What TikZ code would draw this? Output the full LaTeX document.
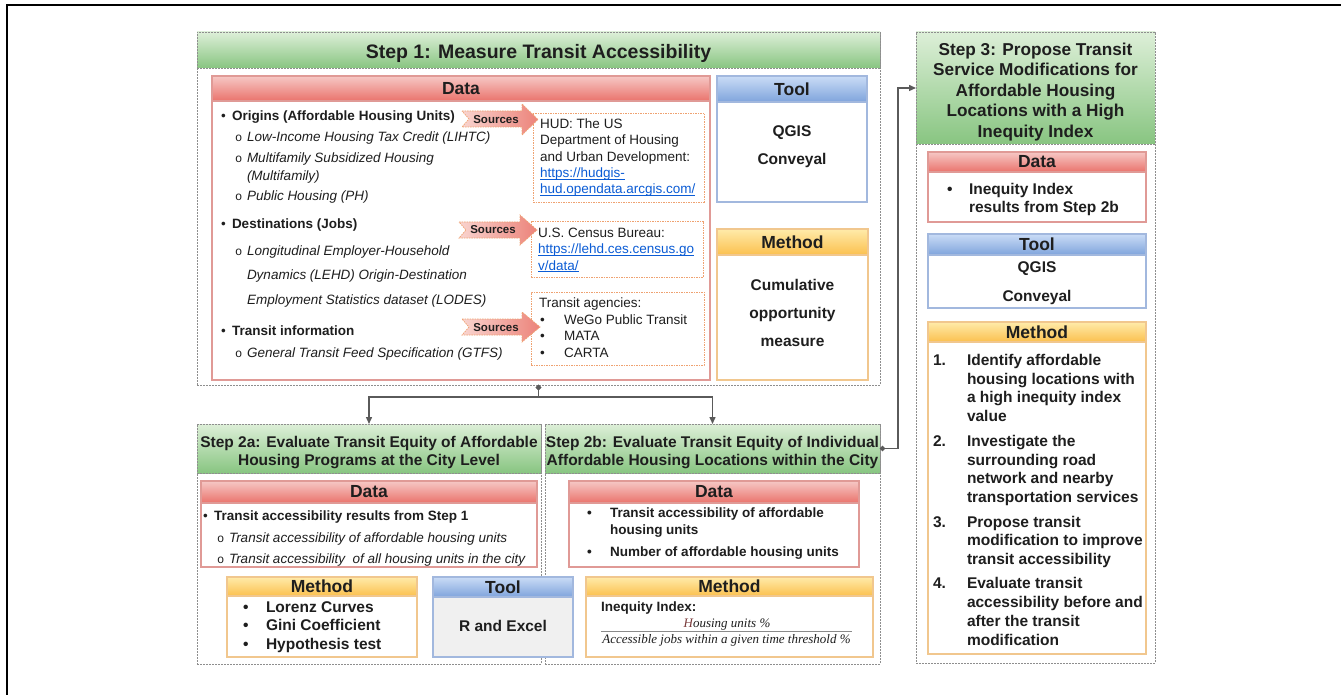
\documentclass[tikz,border=0pt]{standalone}
\usepackage{fontspec}
\setmainfont{Liberation Sans}
\newfontfamily\serifit{Liberation Serif}
\newfontfamily\monof{Liberation Mono}
\usetikzlibrary{fit,arrows.meta}
\definecolor{txt}{HTML}{1E1E1E}
\definecolor{dgray}{HTML}{8E8E8E}
\definecolor{gTop}{HTML}{DDEFD8}
\definecolor{gBot}{HTML}{88C581}
\definecolor{rTop}{HTML}{F6C8C5}
\definecolor{rBot}{HTML}{EA736C}
\definecolor{rLine}{HTML}{E09A96}
\definecolor{bTop}{HTML}{CADCF6}
\definecolor{bBot}{HTML}{7FA4DC}
\definecolor{bLine}{HTML}{A2B8DE}
\definecolor{oTop}{HTML}{FFEBAA}
\definecolor{oBot}{HTML}{FBC04E}
\definecolor{oLine}{HTML}{F1C78E}
\definecolor{sLine}{HTML}{EFA271}
\definecolor{aL}{HTML}{F9D4CF}
\definecolor{aR}{HTML}{EC837A}
\definecolor{cGray}{HTML}{5A5A5A}
\definecolor{linkc}{HTML}{0B5CD5}
\definecolor{toolgray}{HTML}{F0F0F0}
\definecolor{hcol}{HTML}{7A3B3B}
\definecolor{fracline}{HTML}{8A8A8A}
\newcommand\fHead{\fontsize{17.5}{20}\selectfont\bfseries}
\newcommand\fBody{\fontsize{13.5}{16}\selectfont}
\newcommand\fBig{\fontsize{15.5}{18.5}\selectfont\bfseries}
\newcommand\fSrc{\fontsize{11.5}{13}\selectfont\bfseries}
\newcommand\fFrac{\fontsize{13}{15}\selectfont\serifit\itshape}
\newcounter{lc}
\newcommand\putline[4][]{\stepcounter{lc}\node[anchor=base west,name=ln\thelc,#1] at (#2,#3) {#4};}
\newcommand\subb{{\monof\fontsize{12}{14}\selectfont o}}
\newsavebox\lnkbox
\newcommand\lnk[1]{\textcolor{linkc}{\sbox\lnkbox{#1}\rlap{\rule[-1.9pt]{\wd\lnkbox}{0.75pt}}\usebox\lnkbox}}
\begin{document}
\begin{tikzpicture}[x=1pt,y=-1pt,
  every node/.style={inner sep=0pt, outer sep=0pt, text=txt},
  outerbox/.style={draw=dgray, line width=0.9pt, dash pattern=on 2pt off 1pt, fill=white},
  greenhead/.style={draw=dgray, line width=0.9pt, dash pattern=on 2pt off 1pt, top color=gTop, bottom color=gBot},
  redbox/.style={draw=rLine, line width=1.1pt, fill=white},
  redhead/.style={draw=rLine, line width=1.1pt, top color=rTop, bottom color=rBot},
  bluebox/.style={draw=bLine, line width=1.1pt, fill=white},
  bluehead/.style={draw=bLine, line width=1.1pt, top color=bTop, bottom color=bBot},
  orbox/.style={draw=oLine, line width=1.1pt, fill=white},
  orhead/.style={draw=oLine, line width=1.1pt, top color=oTop, bottom color=oBot},
  htext/.style={font=\fHead},
  srcbox/.style={draw=sLine, line width=0.9pt, dash pattern=on 1.5pt off 1pt, fill=white},
  srcarrow/.style={left color=aL, right color=aR, draw=sLine, line width=0.7pt, dash pattern=on 1.5pt off 1pt},
  conn/.style={draw=cGray, line width=1.4pt, {Circle[length=5pt]}-{Triangle[length=7pt,width=6pt]}},
]
\useasboundingbox (0,0) rectangle (1341,695);
\fill[white] (0,0) rectangle (1341,695);
\draw[line width=2.4pt] (7,695) -- (7,5) -- (1341,5);

% ---------- Step 1 ----------
\node[outerbox, fit={(197,32) (880,385)}] (s1) {};
\node[greenhead, fit={(197,32) (880,68)}] (s1h) {};
\node[font=\fontsize{19.5}{23}\selectfont\bfseries] (s1t) at ([yshift=-3pt]s1h.center) {Step 1: Measure Transit Accessibility};
\node[redbox, fit={(212,76) (710,380)}] (d1) {};
\node[redhead, fit={(212,76) (710,101)}] (d1h) {};
\node[htext] (d1t) at (d1h.center) {Data};
\node[bluebox, fit={(717,76) (867,202)}] (t1) {};
\node[bluehead, fit={(717,76) (867,102)}] (t1h) {};
\node[htext] (t1t) at (t1h.center) {Tool};
\node[orbox, fit={(717,229) (868,380)}] (m1) {};
\node[orhead, fit={(717,229) (868,255)}] (m1h) {};
\node[htext] (m1t) at (m1h.center) {Method};

\node[srcbox, fit={(533,113) (704,202)}] (b1) {};
\node[srcbox, fit={(531,221) (703,277)}] (b2) {};
\node[srcbox, fit={(531,292) (704,365)}] (b3) {};

\path[srcarrow] (462,111) -- (522,111) -- (522,104) -- (538,119.5) -- (522,135) -- (522,127) -- (462,127) -- (469,119) -- cycle;
\node[font=\fSrc] (src1) at (496,119.5) {Sources};
\path[srcarrow] (459,222) -- (520,222) -- (520,215) -- (537,230) -- (520,245) -- (520,238) -- (459,238) -- (466,230) -- cycle;
\node[font=\fSrc] (src2) at (493,230) {Sources};
\path[srcarrow] (462,319) -- (522,319) -- (522,312) -- (540,327) -- (522,342) -- (522,335) -- (462,335) -- (469,327) -- cycle;
\node[font=\fSrc] (src3) at (496,327.5) {Sources};

% data lines
\putline[font=\fBody]{221}{121}{•}
\putline[font=\fBody\bfseries]{232}{121}{Origins (Affordable Housing Units)}
\putline{235}{142}{\subb}
\putline[font=\fBody\itshape]{247}{142}{Low-Income Housing Tax Credit (LIHTC)}
\putline{235}{163}{\subb}
\putline[font=\fBody\itshape]{247}{163}{Multifamily Subsidized Housing}
\putline[font=\fBody\itshape]{247}{181}{(Multifamily)}
\putline{235}{201}{\subb}
\putline[font=\fBody\itshape]{247}{201}{Public Housing (PH)}
\putline[font=\fBody]{221}{229}{•}
\putline[font=\fBody\bfseries]{232}{229}{Destinations (Jobs)}
\putline{235}{255}{\subb}
\putline[font=\fBody\itshape]{247}{255}{Longitudinal Employer-Household}
\putline[font=\fBody\itshape]{247}{279}{Dynamics (LEHD) Origin-Destination}
\putline[font=\fBody\itshape]{247}{304}{Employment Statistics dataset (LODES)}
\putline[font=\fBody]{221}{335}{•}
\putline[font=\fBody\bfseries]{232}{335}{Transit information}
\putline{235}{357}{\subb}
\putline[font=\fBody\itshape]{247}{357}{General Transit Feed Specification (GTFS)}

% sources text
\putline[font=\fBody]{540}{128.5}{HUD: The US}
\putline[font=\fBody]{540}{145}{Department of Housing}
\putline[font=\fBody]{540}{161.5}{and Urban Development:}
\putline[font=\fBody]{540}{178}{\lnk{https://hudgis-}}
\putline[font=\fBody]{540}{194}{\lnk{hud.opendata.arcgis.com/}}
\putline[font=\fBody]{538}{237.5}{U.S. Census Bureau:}
\putline[font=\fBody]{538}{253.5}{\lnk{https://lehd.ces.census.go}}
\putline[font=\fBody]{538}{270}{\lnk{v/data/}}
\putline[font=\fBody]{539}{307}{Transit agencies:}
\putline[font=\fBody]{540}{324}{•}
\putline[font=\fBody]{564}{324}{WeGo Public Transit}
\putline[font=\fBody]{540}{340.5}{•}
\putline[font=\fBody]{564}{340.5}{MATA}
\putline[font=\fBody]{540}{357}{•}
\putline[font=\fBody]{564}{357}{CARTA}

% tool / method step 1
\putline[font=\fBig, anchor=base]{792}{136.5}{QGIS}
\putline[font=\fBig, anchor=base]{792}{164.5}{Conveyal}
\putline[font=\fBig, anchor=base]{792.5}{290}{Cumulative}
\putline[font=\fBig, anchor=base]{792.5}{318}{opportunity}
\putline[font=\fBig, anchor=base]{792.5}{346}{measure}

% ---------- Step 2a / 2b ----------
\node[outerbox, fit={(197,424) (541,664)}] (s2a) {};
\node[outerbox, fit={(545,424) (880,664)}] (s2b) {};
\node[greenhead, fit={(197,424) (541,473)}] (s2ah) {};
\node[align=center, font=\fontsize{15.5}{18}\selectfont\bfseries] (s2at) at ([yshift=-4.5pt]s2ah.center) {Step 2a: Evaluate Transit Equity of Affordable\\Housing Programs at the City Level};
\node[greenhead, fit={(545,424) (880,473)}] (s2bh) {};
\node[align=center, font=\fontsize{15.5}{18}\selectfont\bfseries] (s2bt) at ([yshift=-4.5pt]s2bh.center) {Step 2b: Evaluate Transit Equity of Individual\\Affordable Housing Locations within the City};

\node[redbox, fit={(201,481) (537,567)}] (d2a) {};
\node[redhead, fit={(201,481) (537,503)}] (d2ah) {};
\node[htext] (d2at) at (d2ah.center) {Data};
\node[orbox, fit={(227,577) (417,657)}] (m2a) {};
\node[orhead, fit={(227,577) (417,596)}] (m2ah) {};
\node[htext] (m2at) at (m2ah.center) {Method};

\node[redbox, fit={(569,481) (859,567)}] (d2b) {};
\node[redhead, fit={(569,481) (859,503)}] (d2bh) {};
\node[htext] (d2bt) at (d2bh.center) {Data};
\node[orbox, fit={(586,577) (873,657)}] (m2b) {};
\node[orhead, fit={(586,577) (873,596)}] (m2bh) {};
\node[htext] (m2bt) at (m2bh.center) {Method};

\node[bluebox, fill=toolgray, fit={(433,577) (573,657)}] (t2a) {};
\node[bluehead, fit={(433,577) (573,597)}] (t2ah) {};
\node[htext] (t2at) at (t2ah.center) {Tool};

\putline[font=\fBody]{203}{520.5}{•}
\putline[font=\fBody\bfseries]{214}{520.5}{Transit accessibility results from Step 1}
\putline{217}{542}{\subb}
\putline[font=\fBody\itshape]{229}{542}{Transit accessibility of affordable housing units}
\putline{217}{563.5}{\subb}
\putline[font=\fBody\itshape]{229}{563.5}{Transit accessibility \ of all housing units in the city}

\putline[font=\fBig]{243}{612}{•}
\putline[font=\fBig]{266}{612}{Lorenz Curves}
\putline[font=\fBig]{243}{630.5}{•}
\putline[font=\fBig]{266}{630.5}{Gini Coefficient}
\putline[font=\fBig]{243}{649}{•}
\putline[font=\fBig]{266}{649}{Hypothesis test}

\putline[font=\fBig, anchor=base]{503}{631.5}{R and Excel}

\putline[font=\fBody\bfseries]{587}{517}{•}
\putline[font=\fBody\bfseries]{610}{517}{Transit accessibility of affordable}
\putline[font=\fBody\bfseries]{610}{534}{housing units}
\putline[font=\fBody\bfseries]{587}{556}{•}
\putline[font=\fBody\bfseries]{610}{556}{Number of affordable housing units}

\putline[font=\fBody\bfseries]{601}{611}{Inequity Index:}
\putline[font=\fFrac, anchor=base]{727}{627}{{\color{hcol}H}ousing units \%}
\draw[fracline, line width=0.8pt] (601,631) -- (852,631);
\putline[font=\fFrac, anchor=base]{726.5}{643}{Accessible jobs within a given time threshold \%}

% ---------- Step 3 ----------
\node[outerbox, fit={(916,32) (1155,663)}] (s3) {};
\node[greenhead, fit={(916,32) (1155,144)}] (s3h) {};
\node[align=center, font=\fontsize{17.2}{20.5}\selectfont\bfseries] (s3t) at ([yshift=-4pt]s3h.center) {Step 3: Propose Transit\\Service Modifications for\\Affordable Housing\\Locations with a High\\Inequity Index};
\node[redbox, fit={(928,152) (1146,222)}] (d3) {};
\node[redhead, fit={(928,152) (1146,172)}] (d3h) {};
\node[htext] (d3t) at (d3h.center) {Data};
\node[bluebox, fit={(928,234) (1146,308)}] (t3) {};
\node[bluehead, fit={(928,234) (1146,255)}] (t3h) {};
\node[htext] (t3t) at (t3h.center) {Tool};
\node[orbox, fit={(928,322) (1146,654)}] (m3) {};
\node[orhead, fit={(928,322) (1146,342)}] (m3h) {};
\node[htext] (m3t) at (m3h.center) {Method};

\putline[font=\fBig]{947}{195}{•}
\putline[font=\fBig]{969}{195}{Inequity Index}
\putline[font=\fBig]{969}{213}{results from Step 2b}
\putline[font=\fBig, anchor=base]{1037}{272}{QGIS}
\putline[font=\fBig, anchor=base]{1037}{301}{Conveyal}

\putline[font=\fBig]{933}{365}{1.}
\putline[font=\fBig]{967}{365}{Identify affordable}
\putline[font=\fBig]{967}{384}{housing locations with}
\putline[font=\fBig]{967}{402}{a high inequity index}
\putline[font=\fBig]{967}{421}{value}
\putline[font=\fBig]{933}{446}{2.}
\putline[font=\fBig]{967}{446}{Investigate the}
\putline[font=\fBig]{967}{465}{surrounding road}
\putline[font=\fBig]{967}{483}{network and nearby}
\putline[font=\fBig]{967}{502}{transportation services}
\putline[font=\fBig]{933}{527}{3.}
\putline[font=\fBig]{967}{527}{Propose transit}
\putline[font=\fBig]{967}{545}{modification to improve}
\putline[font=\fBig]{967}{564}{transit accessibility}
\putline[font=\fBig]{933}{588}{4.}
\putline[font=\fBig]{967}{588}{Evaluate transit}
\putline[font=\fBig]{967}{607}{accessibility before and}
\putline[font=\fBig]{967}{626}{after the transit}
\putline[font=\fBig]{967}{645}{modification}

% ---------- connectors ----------
\draw[conn] (s1.south) -- ++(0,12) -| (s2a.north);
\draw[conn] (s1.south) -- ++(0,12) -| (s2b.north);
\draw[conn] (s2bh.east) -- ++(18,0) |- (s3h.west);
\end{tikzpicture}
\end{document}
